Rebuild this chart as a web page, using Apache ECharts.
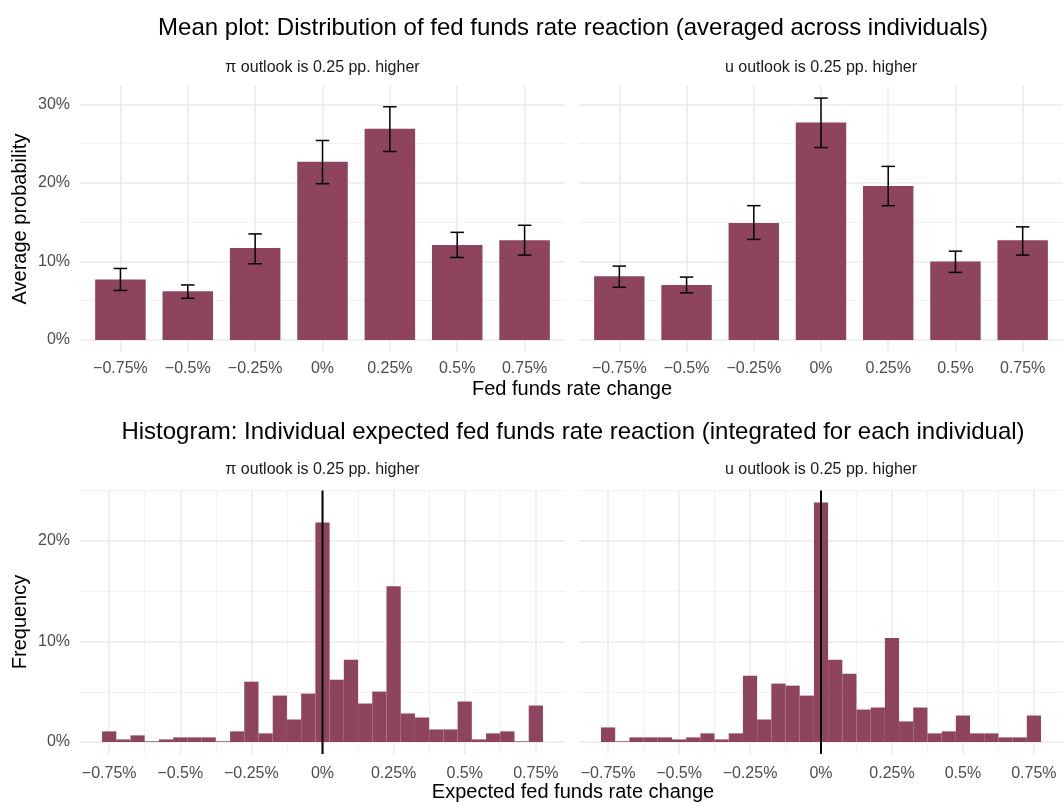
<!DOCTYPE html>
<html>
<head>
<meta charset="utf-8">
<script src="https://cdn.jsdelivr.net/npm/echarts@6/dist/echarts.min.js"></script>
<style>
  html, body { margin: 0; padding: 0; background: #ffffff; }
  #chart { width: 1063px; height: 803px; }
</style>
</head>
<body>
<div id="chart"></div>
<script>
// Outcome categories for the mean plot
const categories = ['\u22120.75%', '\u22120.5%', '\u22120.25%', '0%', '0.25%', '0.5%', '0.75%'];

// Average probability (%) with interval bounds, inflation scenario
const piMean = [7.7, 6.2, 11.7, 22.7, 26.9, 12.1, 12.7];
const piLow  = [6.3, 5.3, 9.7, 19.9, 24.0, 10.5, 10.8];
const piHigh = [9.1, 7.0, 13.5, 25.4, 29.7, 13.7, 14.6];

// Average probability (%) with interval bounds, unemployment scenario
const uMean = [8.1, 7.0, 14.9, 27.7, 19.6, 10.0, 12.7];
const uLow  = [6.7, 6.0, 12.8, 24.5, 17.1, 8.6, 10.8];
const uHigh = [9.4, 8.0, 17.1, 30.8, 22.1, 11.3, 14.4];

// Histogram bin centres (pp.) and frequencies (%)
const binCenters = [-0.75, -0.7, -0.65, -0.6, -0.55, -0.5, -0.45, -0.4, -0.35, -0.3, -0.25,
  -0.2, -0.15, -0.1, -0.05, 0, 0.05, 0.1, 0.15, 0.2, 0.25, 0.3, 0.35, 0.4, 0.45, 0.5,
  0.55, 0.6, 0.65, 0.7, 0.75];
const piFreq = [1.06, 0.26, 0.66, 0.07, 0.26, 0.46, 0.46, 0.46, 0.07, 1.06, 6.0,
  0.86, 4.62, 2.24, 4.82, 21.85, 6.2, 8.18, 3.83, 5.02, 15.5, 2.84, 2.44, 1.25, 1.25, 4.03,
  0.26, 0.86, 1.06, 0.07, 3.63];
const uFreq = [1.45, 0.07, 0.46, 0.46, 0.46, 0.26, 0.46, 0.86, 0.26, 0.86, 6.6,
  2.24, 5.81, 5.61, 4.62, 23.83, 8.18, 6.8, 3.23, 3.43, 10.36, 2.05, 3.43, 0.86, 1.06, 2.64,
  0.86, 0.86, 0.46, 0.46, 2.64];

// Tick values
const meanYTicks = [0, 10, 20, 30];
const meanYMinor = [5, 15, 25];
const histXTicks = [-0.75, -0.5, -0.25, 0, 0.25, 0.5, 0.75];
const histXMinor = [-0.625, -0.375, -0.125, 0.125, 0.375, 0.625];
const histYTicks = [0, 10, 20];
const histYMinor = [5, 15, 25];

const BAR = '#8E445E';
const GRID = '#EBEBEB';
const GRID_MINOR = '#F1F1F1';
const FONT = '"Liberation Sans", Arial, Helvetica, sans-serif';
const BIN_HALF = 0.025;

// Scale limits with 5% padding, as derived from the data
const meanTop = Math.max(...piHigh, ...uHigh);
const meanPad = meanTop * 0.05;
const histTop = Math.max(...piFreq, ...uFreq);
const histPad = histTop * 0.05;
const binPad = (binCenters[binCenters.length - 1] + BIN_HALF - (binCenters[0] - BIN_HALF)) * 0.05;
const histXMin = binCenters[0] - BIN_HALF - binPad;
const histXMax = binCenters[binCenters.length - 1] + BIN_HALF + binPad;

const catPos = categories.map((c, i) => i + 1);

const pctLabel = v => (v < 0 ? '\u2212' : '') + Math.abs(Math.round(v * 100) / 100) + '%';

const grids = [
  { left: 80, top: 86, width: 485, height: 266 },
  { left: 579, top: 86, width: 484, height: 266 },
  { left: 80, top: 490.5, width: 485, height: 263.5 },
  { left: 579, top: 490.5, width: 484, height: 263.5 }
];

const tickLabel = { color: '#4D4D4D', fontSize: 16, fontFamily: FONT };

function majorX(gridIndex, min, max, ticks, fmt, margin) {
  return {
    type: 'value', gridIndex, min, max,
    axisLine: { show: false }, axisTick: { show: false, customValues: ticks },
    axisLabel: Object.assign({ customValues: ticks, formatter: fmt, margin }, tickLabel),
    splitLine: { show: true, lineStyle: { color: GRID, width: 1.6 } }
  };
}
function minorX(gridIndex, min, max, ticks) {
  return {
    type: 'value', gridIndex, min, max, position: 'bottom',
    axisLine: { show: false }, axisTick: { show: false, customValues: ticks },
    axisLabel: { show: false, customValues: ticks },
    splitLine: { show: true, lineStyle: { color: GRID_MINOR, width: 0.9 } }
  };
}
function majorY(gridIndex, min, max, ticks, showLabels) {
  return {
    type: 'value', gridIndex, min, max,
    axisLine: { show: false }, axisTick: { show: false, customValues: ticks },
    axisLabel: Object.assign({ show: showLabels, customValues: ticks, formatter: v => v + '%', margin: 10 }, tickLabel),
    splitLine: { show: true, lineStyle: { color: GRID, width: 1.6 } }
  };
}
function minorY(gridIndex, min, max, ticks) {
  return {
    type: 'value', gridIndex, min, max, position: 'left',
    axisLine: { show: false }, axisTick: { show: false, customValues: ticks },
    axisLabel: { show: false, customValues: ticks },
    splitLine: { show: true, lineStyle: { color: GRID_MINOR, width: 0.9 } }
  };
}

const catFmt = v => categories[Math.round(v) - 1];

const xAxis = [
  majorX(0, 0.4, categories.length + 0.6, catPos, catFmt, 9),
  majorX(1, 0.4, categories.length + 0.6, catPos, catFmt, 9),
  majorX(2, histXMin, histXMax, histXTicks, pctLabel, 12),
  minorX(2, histXMin, histXMax, histXMinor),
  majorX(3, histXMin, histXMax, histXTicks, pctLabel, 12),
  minorX(3, histXMin, histXMax, histXMinor)
];
const yAxis = [
  majorY(0, -meanPad, meanTop + meanPad, meanYTicks, true),
  minorY(0, -meanPad, meanTop + meanPad, meanYMinor),
  majorY(1, -meanPad, meanTop + meanPad, meanYTicks, false),
  minorY(1, -meanPad, meanTop + meanPad, meanYMinor),
  majorY(2, -histPad, histTop + histPad, histYTicks, true),
  minorY(2, -histPad, histTop + histPad, histYMinor),
  majorY(3, -histPad, histTop + histPad, histYTicks, false),
  minorY(3, -histPad, histTop + histPad, histYMinor)
];

function meanBars(xi, yi, values) {
  return {
    type: 'custom', xAxisIndex: xi, yAxisIndex: yi, silent: true, z: 3,
    data: values.map((v, i) => [catPos[i], v]),
    renderItem: (params, api) => {
      const x = api.value(0), y = api.value(1);
      const a = api.coord([x - 0.375, 0]);
      const b = api.coord([x + 0.375, y]);
      return { type: 'rect', shape: { x: a[0], y: b[1], width: b[0] - a[0], height: a[1] - b[1] }, style: { fill: BAR } };
    }
  };
}
function errorBars(xi, yi, low, high) {
  return {
    type: 'custom', xAxisIndex: xi, yAxisIndex: yi, silent: true, z: 4,
    data: low.map((v, i) => [catPos[i], v, high[i]]),
    renderItem: (params, api) => {
      const x = api.value(0);
      const lo = api.coord([x, api.value(1)]);
      const hi = api.coord([x, api.value(2)]);
      const l = api.coord([x - 0.1, 0])[0];
      const r = api.coord([x + 0.1, 0])[0];
      const st = { stroke: '#000000', lineWidth: 1.5 };
      return {
        type: 'group', children: [
          { type: 'line', shape: { x1: lo[0], y1: lo[1], x2: hi[0], y2: hi[1] }, style: st },
          { type: 'line', shape: { x1: l, y1: lo[1], x2: r, y2: lo[1] }, style: st },
          { type: 'line', shape: { x1: l, y1: hi[1], x2: r, y2: hi[1] }, style: st }
        ]
      };
    }
  };
}
function histBars(xi, yi, freq) {
  return {
    type: 'custom', xAxisIndex: xi, yAxisIndex: yi, silent: true, z: 3,
    data: freq.map((v, i) => [binCenters[i], v]),
    renderItem: (params, api) => {
      const c = api.value(0), y = api.value(1);
      const a = api.coord([c - BIN_HALF, 0]);
      const b = api.coord([c + BIN_HALF, y]);
      return { type: 'rect', shape: { x: a[0], y: b[1], width: b[0] - a[0], height: a[1] - b[1] }, style: { fill: BAR } };
    }
  };
}
function zeroLine(xi, yi) {
  return {
    type: 'line', xAxisIndex: xi, yAxisIndex: yi, silent: true, z: 5,
    symbol: 'none', animation: false,
    data: [[0, -histPad], [0, histTop + histPad]],
    lineStyle: { color: '#000000', width: 2 }
  };
}

const txt = (x, y, text, size, color, rotation) => ({
  type: 'text', x, y, rotation: rotation || 0,
  style: { text, fontSize: size, fontFamily: FONT, fill: color, textAlign: 'center', textVerticalAlign: 'middle' }
});

const option = {
  animation: false,
  backgroundColor: '#ffffff',
  grid: grids,
  xAxis,
  yAxis,
  series: [
    meanBars(0, 0, piMean), errorBars(0, 0, piLow, piHigh),
    meanBars(1, 2, uMean), errorBars(1, 2, uLow, uHigh),
    histBars(2, 4, piFreq), zeroLine(2, 4),
    histBars(4, 6, uFreq), zeroLine(4, 6)
  ],
  graphic: [
    txt(573, 28, 'Mean plot: Distribution of fed funds rate reaction (averaged across individuals)', 24, '#000000'),
    txt(322.5, 68, '\u03c0 outlook is 0.25 pp. higher', 16, '#1A1A1A'),
    txt(821, 68, 'u outlook is 0.25 pp. higher', 16, '#1A1A1A'),
    txt(20, 219, 'Average probability', 20, '#000000', Math.PI / 2),
    txt(572, 389, 'Fed funds rate change', 20, '#000000'),
    txt(573, 432, 'Histogram: Individual expected fed funds rate reaction (integrated for each individual)', 24, '#000000'),
    txt(322.5, 470, '\u03c0 outlook is 0.25 pp. higher', 16, '#1A1A1A'),
    txt(821, 470, 'u outlook is 0.25 pp. higher', 16, '#1A1A1A'),
    txt(20, 622, 'Frequency', 20, '#000000', Math.PI / 2),
    txt(573, 792, 'Expected fed funds rate change', 20, '#000000')
  ]
};

const chart = echarts.init(document.getElementById('chart'), null, { renderer: 'canvas' });
chart.setOption(option);
</script>
</body>
</html>
